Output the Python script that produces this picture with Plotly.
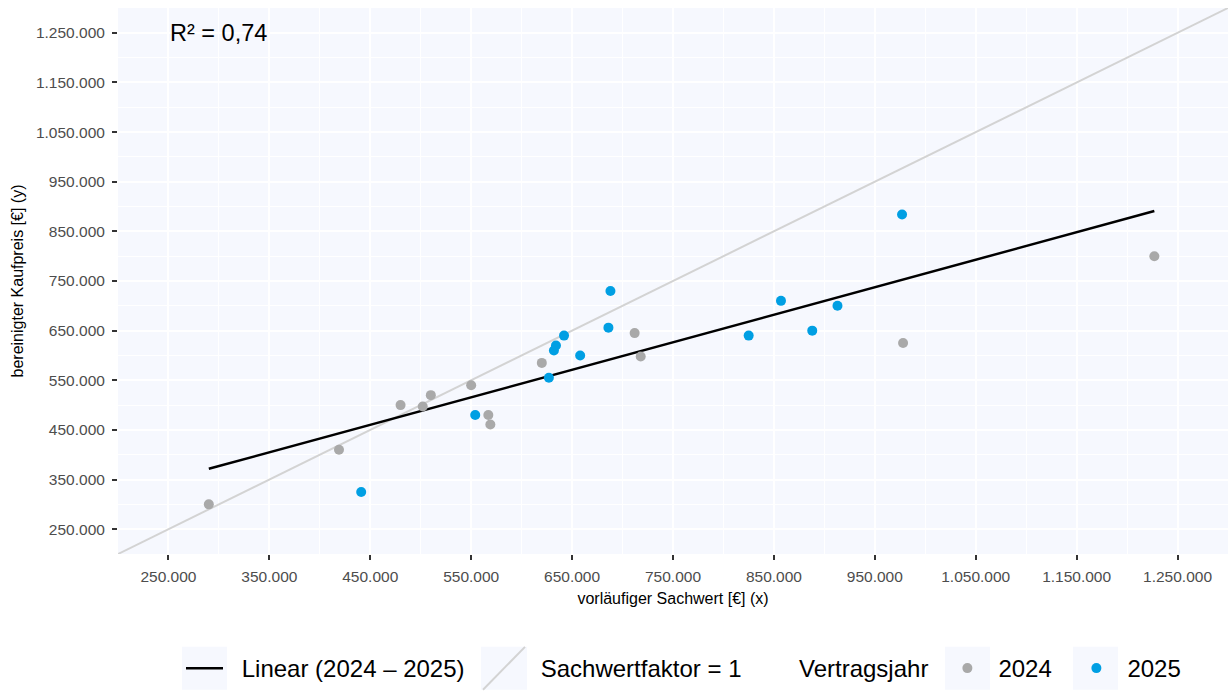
import numpy as np
import plotly.graph_objects as go

# Sachwert (x) und bereinigter Kaufpreis (y) je Vertragsjahr
sachwert_2024 = [290000, 419000, 480000, 502000, 510000, 550000, 567000, 569000,
                 620000, 712000, 718000, 978000, 1227000]
kaufpreis_2024 = [300000, 410000, 500000, 497000, 520000, 540000, 480000, 461000,
                  585000, 645000, 598000, 625000, 800000]

sachwert_2025 = [441000, 554000, 627000, 632000, 634000, 642000, 658000, 688000,
                 686000, 825000, 857000, 888000, 913000, 977000]
kaufpreis_2025 = [325000, 480000, 555000, 610000, 620000, 640000, 600000, 730000,
                  656000, 640000, 710000, 650000, 700000, 884000]

r2_label = "R² = 0,74"
tick_values = [250000, 350000, 450000, 550000, 650000, 750000, 850000,
               950000, 1050000, 1150000, 1250000]
axis_range = [200000, 1300000]

grey = "#A9A9A9"
blue = "#009FE3"
diag_grey = "#D3D3D3"
panel_bg = "#F6F8FE"
font_family = "Liberation Sans, Arial, sans-serif"

W, H = 1228, 691
M_L, M_R, M_T, M_B = 118, 0, 8, 136

# lineare Regression über beide Jahre
x_all = np.array(sachwert_2024 + sachwert_2025, dtype=float)
y_all = np.array(kaufpreis_2024 + kaufpreis_2025, dtype=float)
slope, intercept = np.polyfit(x_all, y_all, 1)
x_fit = np.array([x_all.min(), x_all.max()])
y_fit = slope * x_fit + intercept

fig = go.Figure()

# Winkelhalbierende (Sachwertfaktor = 1)
fig.add_trace(go.Scatter(
    x=axis_range, y=axis_range, mode="lines",
    line=dict(color=diag_grey, width=2),
    showlegend=False, hoverinfo="skip"))

# Regressionsgerade
fig.add_trace(go.Scatter(
    x=x_fit, y=y_fit, mode="lines",
    line=dict(color="black", width=2.5),
    showlegend=False))

# Legendeneinträge der Linien; die Symbole werden unten als Formen gezeichnet
fig.add_trace(go.Scatter(
    x=[None], y=[None], mode="lines",
    line=dict(color="rgba(0,0,0,0)", width=0),
    name="Linear (2024 – 2025)", legend="legend", legendrank=1))

fig.add_trace(go.Scatter(
    x=[None], y=[None], mode="lines",
    line=dict(color="rgba(0,0,0,0)", width=0),
    name="Sachwertfaktor = 1", legend="legend", legendrank=2))

fig.add_trace(go.Scatter(
    x=sachwert_2024, y=kaufpreis_2024, mode="markers",
    marker=dict(color=grey, size=10),
    name="2024", legend="legend2"))

fig.add_trace(go.Scatter(
    x=sachwert_2025, y=kaufpreis_2025, mode="markers",
    marker=dict(color=blue, size=10),
    name="2025", legend="legend2"))

axis_common = dict(
    range=axis_range,
    tickvals=tick_values,
    tickformat=",d",
    showgrid=True, gridcolor="white", gridwidth=1.8,
    minor=dict(tick0=200000, dtick=100000, showgrid=True,
               gridcolor="white", gridwidth=0.9),
    ticks="outside", ticklen=5, tickwidth=1.8, tickcolor="#333333",
    tickfont=dict(family=font_family, size=15.5, color="#4D4D4D"),
    zeroline=False, showline=False,
)

fig.update_xaxes(**axis_common, ticklabelstandoff=3,
                 title=dict(text="vorläufiger Sachwert [€] (x)", standoff=9,
                            font=dict(family=font_family, size=16, color="black")))
fig.update_yaxes(**axis_common, ticklabelstandoff=4,
                 title=dict(text="bereinigter Kaufpreis [€] (y)", standoff=8,
                            font=dict(family=font_family, size=16, color="black")))

fig.add_annotation(
    x=0.045, y=0.954, xref="paper", yref="paper", xanchor="left", yanchor="middle",
    text=r2_label, showarrow=False,
    font=dict(family=font_family, size=23.5, color="black"))


# Legendensymbole und ihre Hintergrundkästchen (Pixel -> Papierkoordinaten)
def px_x(px):
    return (px - M_L) / (W - M_L - M_R)


def px_y(py):
    return (H - M_B - py) / (H - M_T - M_B)


key_boxes = [(182, 227), (481, 527), (945, 990), (1073, 1118)]
key_top, key_bottom = 648, 691
key_mid = (key_top + key_bottom) / 2
shapes = []
for left, right in key_boxes:
    shapes.append(dict(type="rect", xref="paper", yref="paper",
                       x0=px_x(left), x1=px_x(right),
                       y0=px_y(key_bottom), y1=px_y(key_top),
                       fillcolor=panel_bg, line=dict(width=0), layer="below"))
# Symbol "Linear": waagerechte schwarze Linie
shapes.append(dict(type="line", xref="paper", yref="paper",
                   x0=px_x(186), x1=px_x(223),
                   y0=px_y(key_mid), y1=px_y(key_mid),
                   line=dict(color="black", width=2.5)))
# Symbol "Sachwertfaktor = 1": Diagonale
shapes.append(dict(type="line", xref="paper", yref="paper",
                   x0=px_x(483), x1=px_x(525),
                   y0=px_y(key_bottom), y1=px_y(key_top),
                   line=dict(color=diag_grey, width=2)))

legend_font = dict(family=font_family, size=24, color="black")

fig.update_layout(
    width=W, height=H,
    margin=dict(l=M_L, r=M_R, t=M_T, b=M_B),
    paper_bgcolor="white",
    plot_bgcolor=panel_bg,
    separators=",.",
    font=dict(family=font_family),
    shapes=shapes,
    showlegend=True,
    legend=dict(orientation="h", x=0.0556, y=-0.21, xanchor="left", yanchor="middle",
                font=legend_font, bgcolor="rgba(0,0,0,0)", itemwidth=52,
                entrywidth=232, traceorder="normal"),
    legend2=dict(orientation="h", x=0.6117, y=-0.21, xanchor="left", yanchor="middle",
                 font=legend_font, bgcolor="rgba(0,0,0,0)", itemwidth=52,
                 entrywidth=62,
                 title=dict(text="Vertragsjahr", side="left", font=legend_font)),
)

fig.write_html("out.html")
